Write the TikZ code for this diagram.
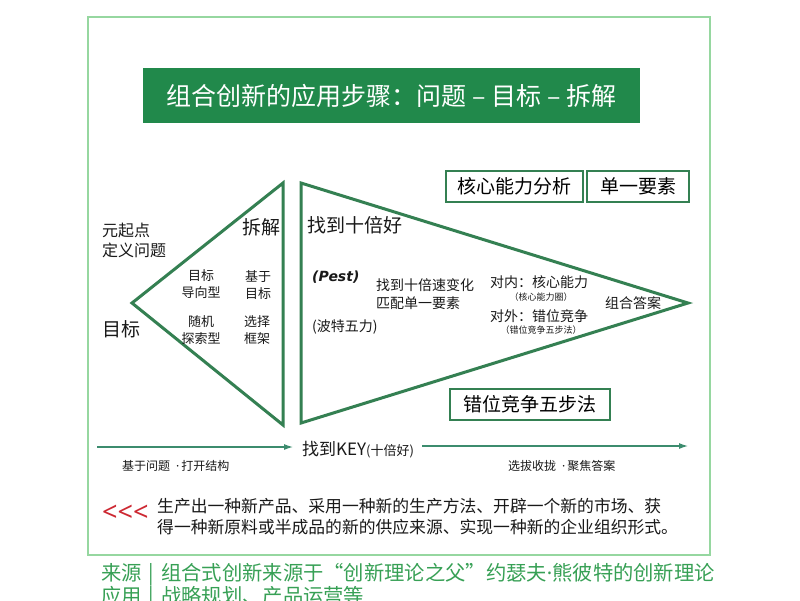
\documentclass[tikz,border=0pt]{standalone}
\usepackage{fontspec}
\setmainfont{Noto Sans CJK SC}
\newfontfamily\latinfont{Noto Sans}
\newfontfamily\pestfont{DejaVu Sans}
\usetikzlibrary{arrows.meta}
\definecolor{framegreen}{RGB}{150,215,160}
\definecolor{titlegreen}{RGB}{33,137,75}
\definecolor{triagreen}{RGB}{52,128,82}
\definecolor{arrowgreen}{RGB}{60,140,110}
\definecolor{srcgreen}{RGB}{55,160,85}
\definecolor{markred}{RGB}{205,40,50}
\begin{document}
\begin{tikzpicture}[x=1pt,y=-1pt]
\tikzstyle{txt}=[inner sep=0pt, text=black!90]
\tikzstyle{tag}=[draw=triagreen, line width=2pt, inner sep=0pt, minimum height=31pt, font=\fontsize{19}{21}\selectfont]
\tikzstyle{tri}=[draw=triagreen, line width=3pt, line join=miter]
\tikzstyle{flow}=[draw=arrowgreen, line width=1.2pt, -{Latex[length=9pt,width=6pt]}]

\useasboundingbox (0,0) rectangle (800,600);
\fill[white] (0,0) rectangle (800,600);

% Frame and title
\draw[framegreen, line width=2.5pt] (88,17) rectangle (710,555);
\node at (391.5,95.5) [fill=titlegreen, minimum width=497pt, minimum height=55pt, inner sep=0pt,
  text=white, font=\fontsize{25}{27}\selectfont] (title) {组合创新的应用步骤：问题 – 目标 – 拆解};

% Triangles
\draw[tri] (283,183) -- (132,303) -- (283,425) -- cycle;
\draw[tri] (301,183) -- (688,303) -- (301,423) -- cycle;

% Tag boxes
\node at (514.5,186) [tag, minimum width=137pt] (core) {核心能力分析};
\node at (638,186) [tag, minimum width=102pt] (single) {单一要素};
\node at (530,404) [tag, minimum width=160pt] (fivestep) {错位竞争五步法};

% Left part
\node at (102,240) [txt, anchor=west, align=left, font=\fontsize{16}{20}\selectfont] (origin) {元起点\\定义问题};
\node at (102,329) [txt, anchor=west, font=\fontsize{19}{21}\selectfont] (goal) {目标};
\node at (261,227) [txt, font=\fontsize{19}{21}\selectfont] (split) {拆解};
\node at (201,284) [txt, align=center, font=\fontsize{13}{17}\selectfont] (goaltype) {目标\\导向型};
\node at (258,285) [txt, align=center, font=\fontsize{13}{17}\selectfont] (basegoal) {基于\\目标};
\node at (201,330) [txt, align=center, font=\fontsize{13}{17}\selectfont] (random) {随机\\探索型};
\node at (257,330) [txt, align=center, font=\fontsize{13}{17}\selectfont] (frame) {选择\\框架};

% Right part
\node at (312,277) [txt, anchor=west, font=\pestfont\fontsize{14}{16}\selectfont\bfseries\itshape] (pest) {(Pest)};
\node at (307,225) [txt, anchor=west, font=\fontsize{19}{21}\selectfont] (tenx) {找到十倍好};
\node at (312,327) [txt, anchor=west, font=\fontsize{14}{16}\selectfont] (porter) {(波特五力)};
\node at (376,294) [txt, anchor=west, align=left, font=\fontsize{14}{18}\selectfont] (speed) {找到十倍速变化\\匹配单一要素};
\node at (490,282) [txt, anchor=west, font=\fontsize{14}{16}\selectfont] (inner) {对内：核心能力};
\node at (541,297) [txt, font=\fontsize{9}{11}\selectfont] (innersub) {（核心能力圈）};
\node at (490,316) [txt, anchor=west, font=\fontsize{14}{16}\selectfont] (outer) {对外：错位竞争};
\node at (541,330) [txt, font=\fontsize{9}{11}\selectfont] (outersub) {（错位竞争五步法）};
\node at (605,303) [txt, anchor=west, font=\fontsize{14}{16}\selectfont] (answer) {组合答案};

% Flow line
\coordinate (start) at (97,447);
\coordinate (finish) at (688,446);
\node at (302,450) [txt, anchor=west, font=\fontsize{17}{19}\selectfont] (key) {找到KEY{\fontsize{13}{15}\selectfont(十倍好)}};
\draw[flow] (start) -- (293,447);
\draw[flow] ([xshift=8pt]key.east |- finish) -- (finish);
\node at (122,466) [txt, anchor=west, font=\fontsize{12}{14}\selectfont] (openup) {基于问题\hspace{6pt}{\latinfont·}\hspace{2pt}打开结构};
\node at (508,466) [txt, anchor=west, font=\fontsize{12}{14}\selectfont] (focus) {选拔收拢\hspace{6pt}{\latinfont·}\hspace{2pt}聚焦答案};

% Definition
\node at (102,513) [inner sep=0pt, anchor=west, text=markred, font=\latinfont\fontsize{27}{29}\selectfont] (marks) {{<}{<}{<}};
\node at (157,517) [txt, anchor=west, align=left, font=\fontsize{16.8}{21}\selectfont] (define)
  {生产出一种新产品、采用一种新的生产方法、开辟一个新的市场、获\\得一种新原料或半成品的新的供应来源、实现一种新的企业组织形式。};

% Source
\node at (101,586) [inner sep=0pt, anchor=west, align=left, text=srcgreen, font=\fontsize{20.3}{23}\selectfont] (source)
  {来源\hspace{7pt}|\hspace{7pt}组合式创新来源于“创新理论之父”约瑟夫{\latinfont·}熊彼特的创新理论\\应用\hspace{7pt}|\hspace{7pt}战略规划、产品运营等};
\end{tikzpicture}
\end{document}
